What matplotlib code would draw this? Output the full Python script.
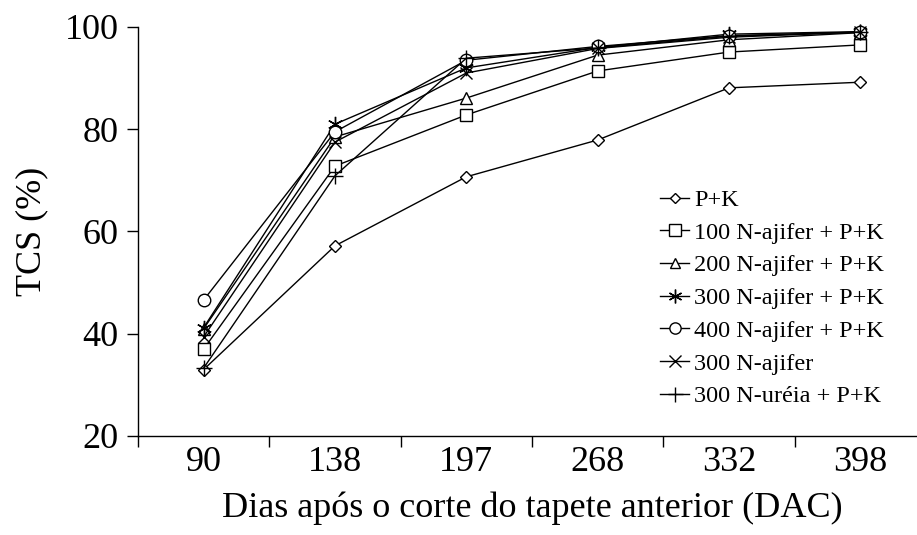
import matplotlib.pyplot as plt
from matplotlib.lines import Line2D

plt.rcParams['font.family'] = ['Liberation Serif', 'DejaVu Serif']

# Days after cut (categories)
dac = ['90', '138', '197', '268', '332', '398']

# TCS (%) per treatment
pk = [33.0, 57.2, 70.7, 77.9, 88.1, 89.2]
n100 = [37.0, 72.8, 82.8, 91.4, 95.1, 96.5]
n200 = [41.0, 78.5, 86.1, 94.5, 97.5, 98.9]
n300 = [41.2, 81.0, 92.0, 96.0, 98.6, 99.1]
n400 = [46.6, 79.5, 93.5, 96.2, 98.3, 99.0]
n300_only = [39.4, 77.5, 91.0, 95.8, 98.0, 99.0]
n300_urea = [33.3, 70.9, 93.9, 95.9, 98.2, 99.0]

labels = ['P+K', '100 N-ajifer + P+K', '200 N-ajifer + P+K',
          '300 N-ajifer + P+K', '400 N-ajifer + P+K', '300 N-ajifer',
          '300 N-uréia + P+K']

series = [pk, n100, n200, n300, n400, n300_only, n300_urea]
markers = ['D', 's', '^', (6, 2, 0), 'o', 'x', '+']
msizes = [6, 9, 8, 11, 9, 9, 12]

fig = plt.figure(figsize=(9.17, 5.35), dpi=100)
ax = fig.add_axes([138 / 917, 99 / 535, 788 / 917, 409 / 535])

x = list(range(len(dac)))
for vals, m, ms, lab in zip(series, markers, msizes, labels):
    ax.plot(x, vals, color='black', lw=1.0, marker=m, ms=ms,
            mfc='white', mec='black', mew=1.0, label=lab, clip_on=False)

ax.set_xlim(-0.5, 5.5)
ax.set_ylim(20, 100)
ax.set_yticks([20, 40, 60, 80, 100])
ax.set_xticks(x)
ax.set_xticklabels(dac)
ax.set_xticks([i - 0.5 for i in range(7)], minor=True)
ax.tick_params(axis='x', which='major', length=0, labelsize=26, pad=7)
ax.tick_params(axis='x', which='minor', length=8, width=1.0, direction='out')
ax.tick_params(axis='y', length=8, width=1.0, direction='out', labelsize=26, pad=6)
ax.spines['top'].set_visible(False)
ax.spines['right'].set_visible(False)
ax.spines['left'].set_linewidth(1.0)
ax.spines['bottom'].set_linewidth(1.0)

ax.set_ylabel('TCS (%)', fontsize=26, labelpad=12)
ax.set_xlabel('Dias após o corte do tapete anterior (DAC)', fontsize=26, labelpad=9)

handles = [Line2D([0], [0], color='black', lw=1.0, marker=m, ms=ms * 0.9,
                  mfc='white', mec='black') for m, ms in zip(markers, msizes)]
fig.legend(handles, labels, loc='upper left', frameon=False,
           bbox_to_anchor=(660 / 917, 1 - 189 / 535), fontsize=17.5,
           handlelength=1.2, handletextpad=0.2, labelspacing=0.44,
           borderpad=0, borderaxespad=0)

fig.savefig('out.png', dpi=100)
